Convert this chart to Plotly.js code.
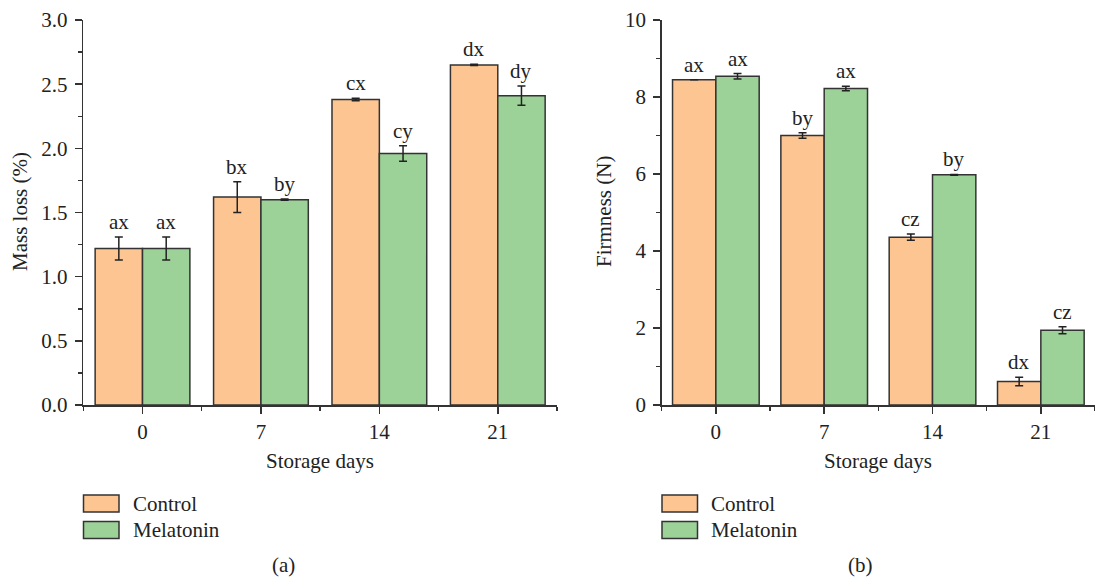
<!DOCTYPE html>
<html>
<head>
<meta charset="utf-8">
<script src="https://cdn.plot.ly/plotly-3.0.1.min.js"></script>
<style>html,body{margin:0;padding:0;background:#fff;}#chart{width:1095px;height:580px;}</style>
</head>
<body>
<div id="chart"></div>
<script>
// ---- data ----
const days = [0, 7, 14, 21];
const seriesNames = ['Control', 'Melatonin'];

const massControl = [1.22, 1.62, 2.38, 2.65];
const massControlErr = [0.09, 0.12, 0.01, 0.005];
const massMelatonin = [1.22, 1.60, 1.96, 2.41];
const massMelatoninErr = [0.09, 0.005, 0.06, 0.075];
const massControlLabels = ['ax', 'bx', 'cx', 'dx'];
const massMelatoninLabels = ['ax', 'by', 'cy', 'dy'];

const firmControl = [8.45, 7.00, 4.36, 0.61];
const firmControlErr = [0.0, 0.07, 0.08, 0.11];
const firmMelatonin = [8.54, 8.22, 5.98, 1.94];
const firmMelatoninErr = [0.07, 0.06, 0.01, 0.09];
const firmControlLabels = ['ax', 'by', 'cz', 'dx'];
const firmMelatoninLabels = ['ax', 'ax', 'by', 'cz'];

// ---- style ----
const FONT = 'Liberation Serif, Times New Roman, serif';
const FS = 21;
const TXT = '#222';
const AX = '#333';
const colors = ['#FDC592', '#9CD198'];
const BARGAP = 0.2;
const step = 7;
const halfBar = step * (1 - BARGAP) / 4;

function barTrace(y, err, name, color, xa, ya) {
  return {
    type: 'bar', x: days, y: y, name: name, xaxis: xa, yaxis: ya,
    marker: {color: color, line: {color: AX, width: 1.5}},
    error_y: {type: 'data', array: err, visible: true, color: '#222', thickness: 1.5, width: 4},
    showlegend: false, hoverinfo: 'skip'
  };
}

const data = [
  barTrace(massControl, massControlErr, seriesNames[0], colors[0], 'x', 'y'),
  barTrace(massMelatonin, massMelatoninErr, seriesNames[1], colors[1], 'x', 'y'),
  barTrace(firmControl, firmControlErr, seriesNames[0], colors[0], 'x2', 'y2'),
  barTrace(firmMelatonin, firmMelatoninErr, seriesNames[1], colors[1], 'x2', 'y2')
];

const annotations = [];
function addLabels(vals, errs, labels, side, xr, yr) {
  labels.forEach((t, i) => {
    annotations.push({
      x: days[i] + side * halfBar, y: vals[i] + errs[i], xref: xr, yref: yr,
      text: t, showarrow: false, yanchor: 'bottom', yshift: 1,
      font: {family: FONT, size: FS, color: TXT}
    });
  });
}
addLabels(massControl, massControlErr, massControlLabels, -1, 'x', 'y');
addLabels(massMelatonin, massMelatoninErr, massMelatoninLabels, 1, 'x', 'y');
addLabels(firmControl, firmControlErr, firmControlLabels, -1, 'x2', 'y2');
addLabels(firmMelatonin, firmMelatoninErr, firmMelatoninLabels, 1, 'x2', 'y2');

const W = 1095, H = 580;
const px = v => v / W, py = v => 1 - v / H;

function txt(x, y, text, opts) {
  return Object.assign({x: px(x), y: py(y), xref: 'paper', yref: 'paper', text: text,
    showarrow: false, xanchor: 'center', yanchor: 'middle',
    font: {family: FONT, size: FS, color: TXT}}, opts || {});
}
// axis titles
annotations.push(txt(320, 461, 'Storage days'));
annotations.push(txt(878, 461, 'Storage days'));
annotations.push(txt(20, 212, 'Mass loss (%)', {textangle: -90}));
annotations.push(txt(604, 212, 'Firmness (N)', {textangle: -90}));
// panel letters
annotations.push(txt(283, 565, '(a)'));
annotations.push(txt(860, 565, '(b)'));

// legends
const shapes = [];
function legend(x0, names) {
  names.forEach((n, i) => {
    const yc = 503.5 + i * 26.5;
    shapes.push({type: 'rect', xref: 'paper', yref: 'paper',
      x0: px(x0), x1: px(x0 + 35.5), y0: py(yc - 8.5), y1: py(yc + 8.5),
      fillcolor: colors[i], line: {color: AX, width: 1.5}});
    annotations.push(txt(x0 + 47, yc, n, {xanchor: 'left'}));
  });
}
legend(83.5, seriesNames);
legend(662, seriesNames);

const xBase = {
  range: [-3.5, 24.5], tickvals: days, ticktext: days.map(String),
  ticks: 'outside', ticklen: 7, tickwidth: 1.5, tickcolor: AX,
  showline: true, linecolor: AX, linewidth: 1.5, showgrid: false, zeroline: false,
  tickfont: {family: FONT, size: FS, color: TXT}, automargin: false, fixedrange: true,
  minor: {tick0: -3.5, dtick: 7, ticks: 'outside', ticklen: 4, tickwidth: 1.5, tickcolor: AX, showgrid: false}
};
const yBase = {
  ticks: 'outside', ticklen: 7, tickwidth: 1.5, tickcolor: AX,
  showline: true, linecolor: AX, linewidth: 1.5, showgrid: false, zeroline: false,
  tickfont: {family: FONT, size: FS, color: TXT}, automargin: false, fixedrange: true,
  ticklabelstandoff: 3
};

const layout = {
  width: W, height: H, margin: {l: 0, r: 0, t: 0, b: 0},
  paper_bgcolor: '#fff', plot_bgcolor: '#fff',
  barmode: 'group', bargap: BARGAP, bargroupgap: 0,
  showlegend: false,
  xaxis: Object.assign({}, xBase, {domain: [px(83.3), px(557)], anchor: 'y'}),
  yaxis: Object.assign({}, yBase, {domain: [py(405), py(20)], anchor: 'x', range: [0, 3.0],
    tickvals: [0, 0.5, 1.0, 1.5, 2.0, 2.5, 3.0], ticktext: ['0.0', '0.5', '1.0', '1.5', '2.0', '2.5', '3.0'],
    minor: {tick0: 0, dtick: 0.25, ticks: 'outside', ticklen: 4, tickwidth: 1.5, tickcolor: AX, showgrid: false}}),
  xaxis2: Object.assign({}, xBase, {domain: [px(661.7), 1.0], anchor: 'y2'}),
  yaxis2: Object.assign({}, yBase, {domain: [py(405), py(20)], anchor: 'x2', range: [0, 10],
    tickvals: [0, 2, 4, 6, 8, 10],
    minor: {tick0: 0, dtick: 1, ticks: 'outside', ticklen: 4, tickwidth: 1.5, tickcolor: AX, showgrid: false}}),
  annotations: annotations,
  shapes: shapes
};

Plotly.newPlot('chart', data, layout, {staticPlot: true, displayModeBar: false});
</script>
</body>
</html>
